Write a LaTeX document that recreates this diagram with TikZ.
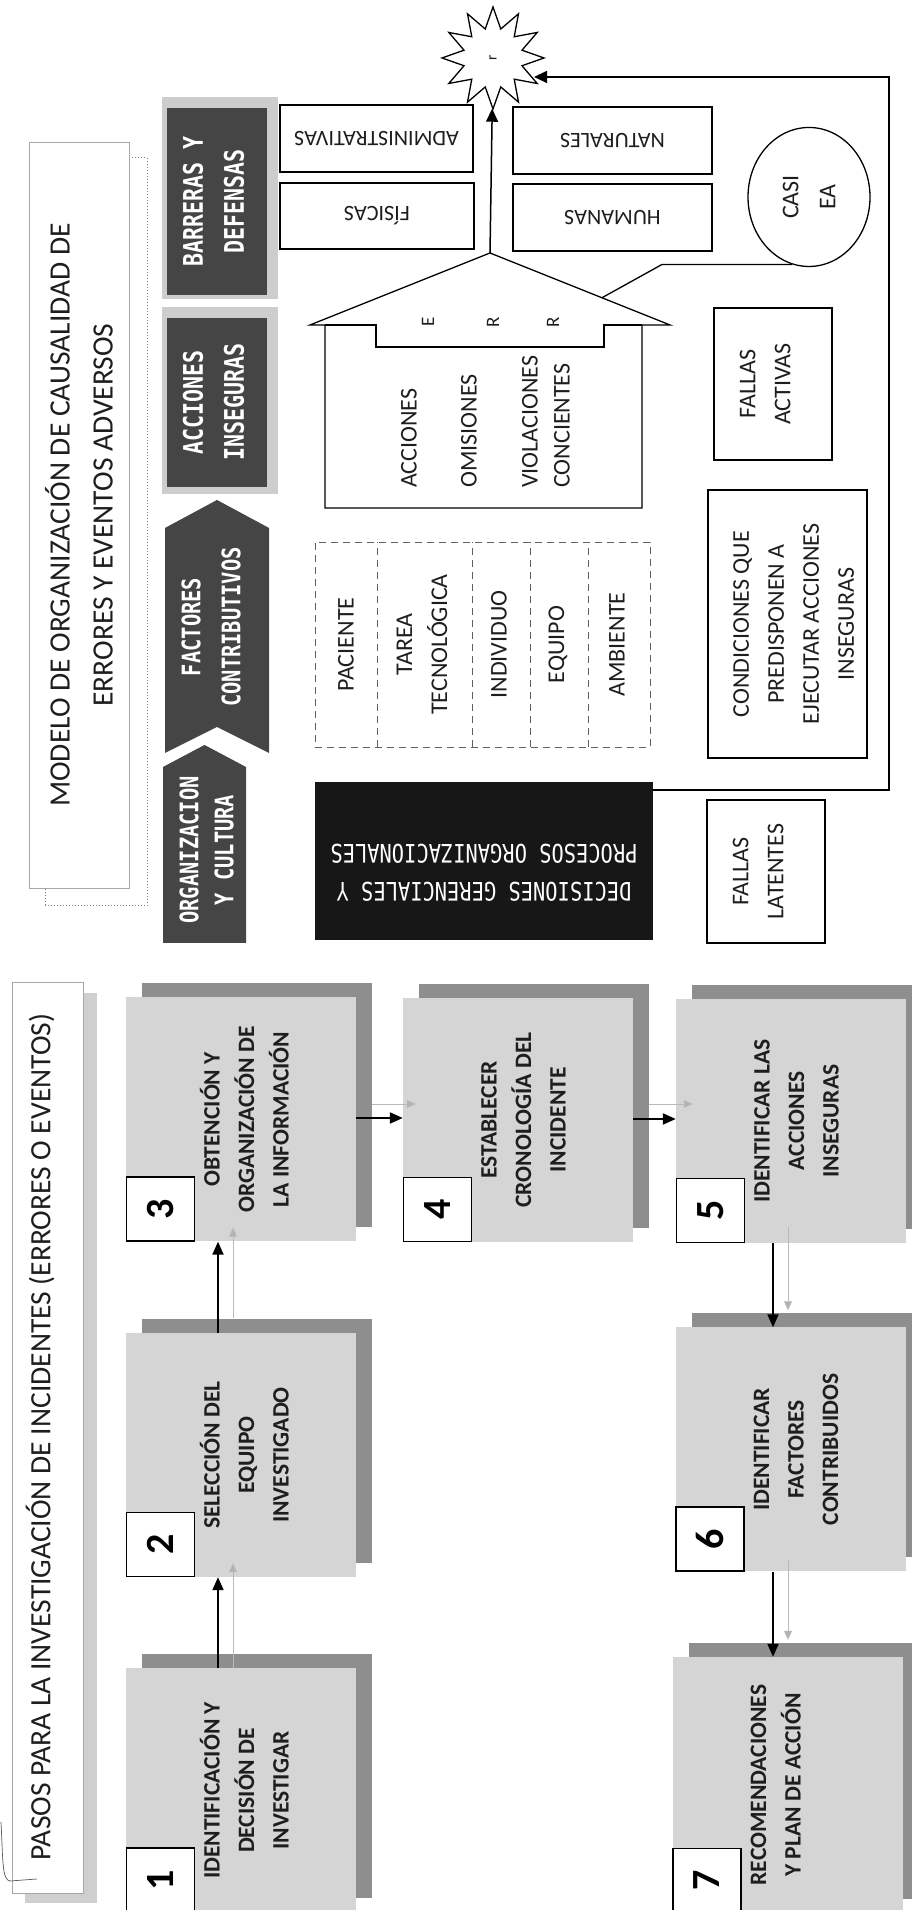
\documentclass[tikz,border=0pt]{standalone}
\usepackage{fontspec}
\setmainfont{Carlito}
\newfontfamily\tabfont[FakeStretch=0.8]{DejaVu Sans Mono}
\usetikzlibrary{shapes.geometric,calc,arrows.meta}
\definecolor{tabdark}{HTML}{454545}
\definecolor{tabframe}{HTML}{CDCDCD}
\definecolor{stepfill}{HTML}{D5D5D5}
\definecolor{shadowgray}{HTML}{8E8E8E}
\definecolor{titleshadow}{HTML}{CFCFCF}
\definecolor{titleline}{HTML}{A8A8A8}
\definecolor{txt}{HTML}{1E1E1E}
\definecolor{decbg}{HTML}{171717}

\newcommand{\StepBox}[6]{%
  \fill[shadowgray] ({#2-#4/2+14},{#3-115+16}) rectangle ({#2+#4/2+14},{#3+115+16});
  \node[stepbox, minimum width=#4pt] (#1) at (#2,#3) {};
  \node[numbox, anchor=north west] (#1n) at (#1.north west) {#5};
  \node[steptext, anchor=north] (#1t) at ($(#1.north)+(0,73.5)$) {\rule{0pt}{20pt}#6};
}

\begin{document}
\begin{tikzpicture}[x=1pt,y=-1pt,rotate=90,transform shape,
  stepbox/.style={fill=stepfill, inner sep=0pt, minimum height=230pt},
  numbox/.style={draw=black, line width=1.4pt, fill=white, inner sep=0pt,
    minimum width=64pt, minimum height=68pt, font=\bfseries\fontsize{40}{40}\selectfont},
  steptext/.style={inner sep=0pt, align=center, text=txt,
    font=\bfseries\fontsize{23.5}{34.5}\selectfont},
  blk/.style={line width=2pt, -{Triangle[length=13pt,width=11pt]}},
  blkb/.style={line width=1.5pt, -{Triangle[length=13pt,width=12pt]}},
  gry/.style={line width=0.8pt, draw=gray!55, -{Triangle[length=9pt,width=8pt,fill=gray!60]}},
  mbox/.style={draw=black, line width=1.3pt, inner sep=0pt, align=center,
    font=\fontsize{24}{35}\selectfont, text=txt},
  barrier/.style={draw=black, line width=1.3pt, inner sep=0pt, fill=white,
    font=\fontsize{22}{26}\selectfont, text=txt},
  tabtxt/.style={text=white, align=center, inner sep=0pt},
  facttxt/.style={inner sep=0pt, align=center, text=txt, font=\fontsize{24}{35}\selectfont},
  housetxt/.style={inner sep=0pt, align=left, text=txt, font=\fontsize{24}{32}\selectfont},
  errtxt/.style={inner sep=0pt, text=txt, font=\fontsize{19}{19}\selectfont},
  tdash/.style={draw=gray!75!black, line width=0.9pt, dash pattern=on 7pt off 5pt},
  thinln/.style={line width=1.3pt}
]
\useasboundingbox (0,0) rectangle (1910,912);
\clip (0,0) rectangle (1910,912);
\fill[white] (0,0) rectangle (1910,912);

% ---------------- PASOS title
\fill[titleshadow] (7,25) rectangle (917,97);
\node[draw=titleline, line width=0.8pt, fill=white, minimum width=911pt,
  minimum height=71pt, inner sep=0pt] (pasos) at (472.5,47.5) {};
\node[font=\fontsize{29.5}{35}\selectfont, text=txt, inner sep=0pt] (pasostxt) at (473,40)
  {PASOS PARA LA INVESTIGACIÓN DE INCIDENTES (ERRORES O EVENTOS)};
\draw[gray!70!black, line width=0.7pt] (88,1) .. controls (50,3) and (30,2) .. (29,10) -- (31,37);

% ---------------- MODELO title
\draw[dotted, gray, line width=1pt] (1004,45) rectangle (1752,147);
\node[draw=titleline, line width=0.8pt, fill=white, minimum width=746pt, minimum height=100pt,
  inner sep=0pt, align=center, text=txt, font=\fontsize{29.5}{43}\selectfont] (modelo) at (1395,79)
  {MODELO DE ORGANIZACIÓN DE CAUSALIDAD DE\\ERRORES Y EVENTOS ADVERSOS};

% ---------------- tabs
\fill[tabdark] (967,163) -- (1143,163) -- (1165,204.5) -- (1143,246) -- (967,246) -- cycle;
\node[tabtxt, font=\tabfont\bfseries\fontsize{25.5}{35}\selectfont] (orgtxt) at (1060,206.5)
  {ORGANIZACION\\Y CULTURA};
\fill[tabdark] (1157,165) -- (1382,165) -- (1410,217) -- (1382,269) -- (1157,269) -- (1183,217) -- cycle;
\node[tabtxt, font=\tabfont\bfseries\fontsize{25.5}{40}\selectfont] (factxt) at (1283,211)
  {FACTORES\\CONTRIBUTIVOS};
\fill[tabframe] (1416,162) rectangle (1603,278);
\node[fill=tabdark, minimum width=169pt, minimum height=100pt, inner sep=0pt] (accin) at (1507.5,217) {};
\node[tabtxt, font=\tabfont\bfseries\fontsize{27}{41}\selectfont] (accintxt) at (1507.5,213.5)
  {ACCIONES\\INSEGURAS};
\fill[tabframe] (1611,162) rectangle (1813,278);
\node[fill=tabdark, minimum width=187pt, minimum height=100pt, inner sep=0pt] (barr) at (1708.5,217) {};
\node[tabtxt, font=\tabfont\bfseries\fontsize{27}{41}\selectfont] (barrtxt) at (1708.5,213.5)
  {BARRERAS Y\\DEFENSAS};

% ---------------- black box
\node[fill=decbg, minimum width=158pt, minimum height=338pt, inner sep=0pt] (dec) at (1049,484) {};
\node[rotate=90, text=white, align=center, inner sep=0pt,
  font=\tabfont\fontsize{25.5}{38}\selectfont] (dectxt) at (1037,484)
  {DECISIONES GERENCIALES Y\\PROCESOS ORGANIZACIONALES};

% ---------------- factors table
\draw[tdash] (1163,315) rectangle (1368,650);
\foreach \yy in {377,472,530,588} \draw[tdash] (1163,\yy) -- (1368,\yy);
\node[facttxt] (fpac) at (1265.5,346) {PACIENTE};
\node[facttxt] (ftar) at (1265.5,422) {TAREA\\TECNOLÓGICA};
\node[facttxt] (find) at (1265.5,499) {INDIVIDUO};
\node[facttxt] (fequ) at (1265.5,558) {EQUIPO};
\node[facttxt] (famb) at (1265.5,617) {AMBIENTE};

% ---------------- house
\draw[thinln, fill=white] (1585,310) -- (1657,490) -- (1585,670) -- (1585,642) -- (1402,642)
  -- (1402,325) -- (1585,325) -- cycle;
\draw[thinln] (1585,325) -- (1585,376) -- (1563,376) -- (1563,604) -- (1585,604) -- (1585,642);
\coordinate (apex) at (1657,490);
\coordinate (roofpt) at ($(apex)!0.622!(1585,670)$);
\node[housetxt, anchor=west] (hacc) at (1422,409) {ACCIONES};
\node[housetxt, anchor=west] (homi) at (1422,469) {OMISIONES};
\node[housetxt, anchor=west] (hvio) at (1422,546) {VIOLACIONES\\CONCIENTES};
\node[errtxt] (le) at (1588,428) {E};
\node[errtxt] (lr1) at (1588,493) {R};
\node[errtxt] (lr2) at (1588,553) {R};

% ---------------- barriers
\node[barrier, minimum width=67pt, minimum height=193pt] (badm) at (1771.5,376.5) {\rotatebox{90}{ADMINISTRATIVAS}};
\node[barrier, minimum width=66pt, minimum height=194pt] (bfis) at (1694,377) {\rotatebox{90}{FÍSICAS}};
\node[barrier, minimum width=67pt, minimum height=199pt] (bnat) at (1769.5,612.5) {\rotatebox{90}{NATURALES}};
\node[barrier, minimum width=67pt, minimum height=199pt] (bhum) at (1692.5,612.5) {\rotatebox{90}{HUMANAS}};

% ---------------- star
\node[star, star points=12, star point ratio=1.7, minimum size=102pt, draw, line width=1.3pt,
  fill=white, inner sep=0pt, text=txt, font=\fontsize{15}{15}\selectfont] (star) at (1852,493) {r};

% ---------------- other model boxes
\node[draw=black, line width=1.3pt, ellipse, minimum width=139pt, minimum height=122pt, inner sep=0pt,
  align=center, text=txt, font=\fontsize{24}{37}\selectfont] (casi) at (1713,809) {CASI\\EA};
\node[mbox, minimum width=152pt, minimum height=118pt] (factiv) at (1526,773)
  {FALLAS\\ACTIVAS\rule[-16pt]{0pt}{0pt}};
\node[mbox, minimum width=268pt, minimum height=159pt] (cond) at (1286,787.5)
  {\rule{0pt}{28pt}CONDICIONES QUE\\PREDISPONEN A\\EJECUTAR ACCIONES\\INSEGURAS};
\node[mbox, minimum width=143pt, minimum height=118pt] (flat) at (1038.5,766)
  {FALLAS\\LATENTES\rule[-16pt]{0pt}{0pt}};

% ---------------- model connectors
\draw[blkb] (apex) -- (star);
\coordinate (fbk) at (1833,889);
\draw[blkb] ($(dec.south east)+(-8,0)$) |- (fbk) -- ($(star.center)+(-19,41)$);
\draw[thinln] (roofpt) -- (casi.166 |- 0,662) -- (casi.166);

% ---------------- steps
\StepBox{s1}{119.5}{241}{244}{1}{IDENTIFICACIÓN Y\\DECISIÓN DE\\INVESTIGAR}
\StepBox{s2}{455}{241}{244}{2}{SELECCIÓN DEL\\EQUIPO\\INVESTIGADO}
\StepBox{s3}{790.5}{241}{244}{3}{OBTENCIÓN Y\\ORGANIZACIÓN DE\\LA INFORMACIÓN}
\StepBox{s4}{790}{518}{244}{4}{ESTABLECER\\CRONOLOGÍA DEL\\INCIDENTE}
\StepBox{s5}{789}{791}{244}{5}{IDENTIFICAR LAS\\ACCIONES\\INSEGURAS}
\StepBox{s6}{460.5}{790.5}{244}{6}{IDENTIFICAR\\FACTORES\\CONTRIBUIDOS}
\StepBox{s7}{125}{787.5}{256}{7}{RECOMENDACIONES\\Y PLAN DE ACCIÓN}

% ---------------- step arrows
\draw[gry] (s1.east |- 0,233) -- ($(s2.west)+(14,-8)$);
\draw[blk] ($(s1.east)+(0,-23)$) -- ($(s2.west)+(0,-23)$);
\draw[gry] ($(s2.east)+(15,-8)$) -- ($(s3.west)+(14,-8)$);
\draw[blk] ($(s2.east)+(0,-23)$) -- ($(s3.west)+(0,-23)$);
\draw[gry] ($(s3.south)+(15.5,16)$) -- ($(s4.north)+(16,13)$);
\draw[blk] ($(s3.south)+(1.5,0)$) -- ($(s4.north)+(2,0)$);
\draw[gry] ($(s4.south)+(16,16)$) -- ($(s5.north)+(17,17)$);
\draw[blk] ($(s4.south)+(1,0)$) -- ($(s5.north)+(2,0)$);
\draw[gry] ($(s5.west)+(16,-3)$) -- ($(s6.east)+(17,-2.5)$);
\draw[blk] ($(s5.west)+(0,-18)$) -- ($(s6.east)+(0,-17.5)$);
\draw[gry] ($(s6.west)+(12,-2.5)$) -- ($(s7.east)+(17,0.5)$);
\draw[blk] ($(s6.west)+(0,-17.5)$) -- ($(s7.east)+(0,-14.5)$);
\end{tikzpicture}
\end{document}
